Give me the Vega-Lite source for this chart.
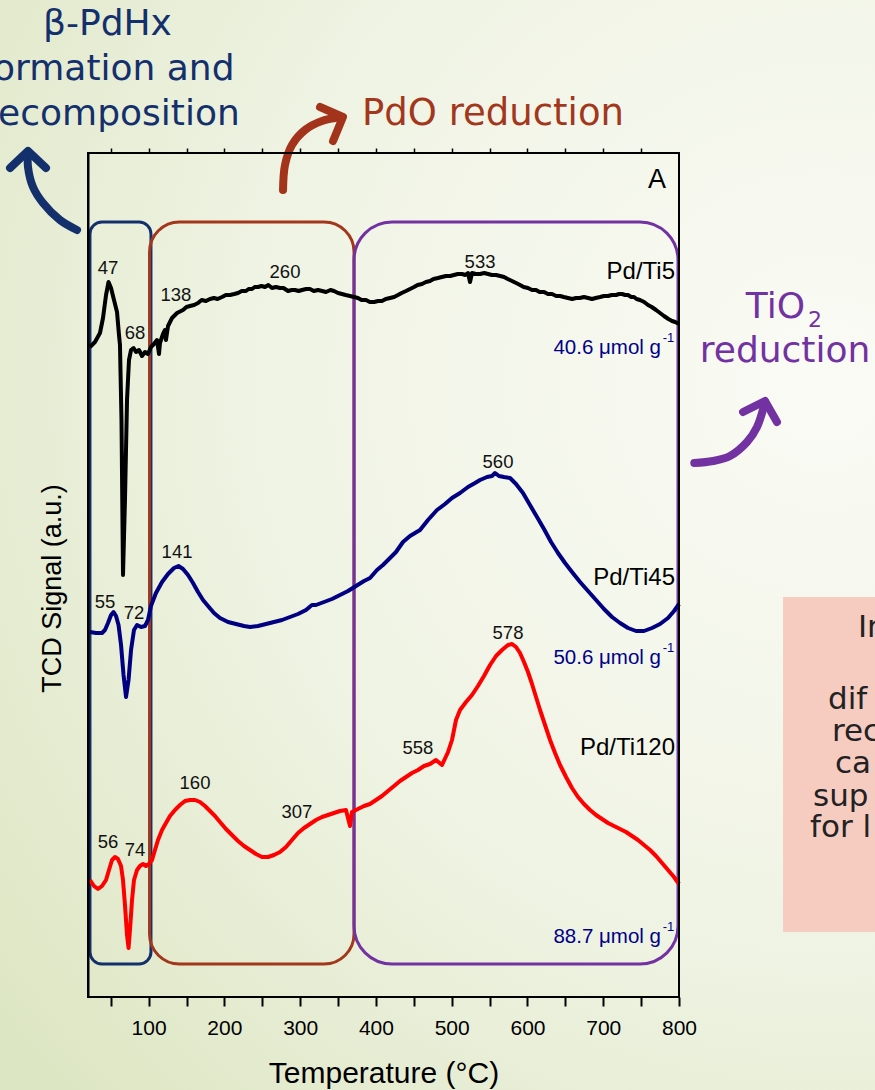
{
  "$schema": "https://vega.github.io/schema/vega-lite/v6.json",
  "width": 591,
  "height": 844,
  "autosize": {"type": "none"},
  "padding": {"left": 88, "top": 153, "right": 196, "bottom": 93},
  "background": "#eef2e2",
  "config": {"view": {"stroke": null}, "axis": {"zindex": 1}},
  "resolve": {"axis": {"x": "independent", "y": "independent"}, "scale": {"color": "independent"}},
  "datasets": {
    "curves": [
      {"sample":"Pd/Ti5","T":22.6,"s":650},{"sample":"Pd/Ti5","T":29.2,"s":655},{"sample":"Pd/Ti5","T":35.8,"s":664},{"sample":"Pd/Ti5","T":39.8,"s":679},{"sample":"Pd/Ti5","T":43.8,"s":702},{"sample":"Pd/Ti5","T":47.1,"s":715},{"sample":"Pd/Ti5","T":50.4,"s":709},{"sample":"Pd/Ti5","T":54.3,"s":697},{"sample":"Pd/Ti5","T":58.3,"s":685},{"sample":"Pd/Ti5","T":60.9,"s":662},{"sample":"Pd/Ti5","T":62.2,"s":652},{"sample":"Pd/Ti5","T":64.2,"s":577},{"sample":"Pd/Ti5","T":66.2,"s":422},{"sample":"Pd/Ti5","T":68.8,"s":497},{"sample":"Pd/Ti5","T":71.5,"s":597},{"sample":"Pd/Ti5","T":74.1,"s":637},{"sample":"Pd/Ti5","T":76.8,"s":647},{"sample":"Pd/Ti5","T":80.1,"s":649},{"sample":"Pd/Ti5","T":83.4,"s":645},{"sample":"Pd/Ti5","T":87.3,"s":647},{"sample":"Pd/Ti5","T":91.3,"s":641},{"sample":"Pd/Ti5","T":95.2,"s":645},{"sample":"Pd/Ti5","T":99.2,"s":643},{"sample":"Pd/Ti5","T":103.1,"s":650},{"sample":"Pd/Ti5","T":107.1,"s":653},{"sample":"Pd/Ti5","T":111.1,"s":657},{"sample":"Pd/Ti5","T":113.7,"s":643},{"sample":"Pd/Ti5","T":115.0,"s":654},{"sample":"Pd/Ti5","T":119.0,"s":663},{"sample":"Pd/Ti5","T":121.6,"s":667},{"sample":"Pd/Ti5","T":122.9,"s":657},{"sample":"Pd/Ti5","T":125.6,"s":671},{"sample":"Pd/Ti5","T":130.9,"s":679},{"sample":"Pd/Ti5","T":137.5,"s":684},{"sample":"Pd/Ti5","T":145.4,"s":687},{"sample":"Pd/Ti5","T":150,"s":690},{"sample":"Pd/Ti5","T":154.6,"s":691},{"sample":"Pd/Ti5","T":160,"s":692},{"sample":"Pd/Ti5","T":165.2,"s":694},{"sample":"Pd/Ti5","T":170,"s":697},{"sample":"Pd/Ti5","T":175.7,"s":696},{"sample":"Pd/Ti5","T":181,"s":698},{"sample":"Pd/Ti5","T":186.3,"s":699},{"sample":"Pd/Ti5","T":191,"s":698},{"sample":"Pd/Ti5","T":196.9,"s":700},{"sample":"Pd/Ti5","T":202,"s":702},{"sample":"Pd/Ti5","T":207.4,"s":702},{"sample":"Pd/Ti5","T":213,"s":703},{"sample":"Pd/Ti5","T":218,"s":704},{"sample":"Pd/Ti5","T":223,"s":706},{"sample":"Pd/Ti5","T":228.5,"s":706},{"sample":"Pd/Ti5","T":232,"s":708},{"sample":"Pd/Ti5","T":236.5,"s":708},{"sample":"Pd/Ti5","T":240,"s":710},{"sample":"Pd/Ti5","T":244.4,"s":710},{"sample":"Pd/Ti5","T":249,"s":711},{"sample":"Pd/Ti5","T":253.6,"s":710},{"sample":"Pd/Ti5","T":258,"s":712},{"sample":"Pd/Ti5","T":262.8,"s":709},{"sample":"Pd/Ti5","T":268,"s":710},{"sample":"Pd/Ti5","T":273.4,"s":709},{"sample":"Pd/Ti5","T":278,"s":709},{"sample":"Pd/Ti5","T":284,"s":706},{"sample":"Pd/Ti5","T":289,"s":707},{"sample":"Pd/Ti5","T":293.2,"s":707},{"sample":"Pd/Ti5","T":298,"s":706},{"sample":"Pd/Ti5","T":302.4,"s":707},{"sample":"Pd/Ti5","T":308,"s":708},{"sample":"Pd/Ti5","T":313,"s":708},{"sample":"Pd/Ti5","T":318,"s":706},{"sample":"Pd/Ti5","T":323.6,"s":707},{"sample":"Pd/Ti5","T":329,"s":706},{"sample":"Pd/Ti5","T":334.1,"s":705},{"sample":"Pd/Ti5","T":340,"s":707},{"sample":"Pd/Ti5","T":344.7,"s":706},{"sample":"Pd/Ti5","T":350,"s":704},{"sample":"Pd/Ti5","T":355.2,"s":703},{"sample":"Pd/Ti5","T":360,"s":702},{"sample":"Pd/Ti5","T":365.8,"s":701},{"sample":"Pd/Ti5","T":371,"s":700},{"sample":"Pd/Ti5","T":376.3,"s":699},{"sample":"Pd/Ti5","T":381,"s":697},{"sample":"Pd/Ti5","T":386.9,"s":697},{"sample":"Pd/Ti5","T":392,"s":695},{"sample":"Pd/Ti5","T":397.5,"s":695},{"sample":"Pd/Ti5","T":403,"s":696},{"sample":"Pd/Ti5","T":408,"s":696},{"sample":"Pd/Ti5","T":413,"s":698},{"sample":"Pd/Ti5","T":418.6,"s":699},{"sample":"Pd/Ti5","T":424,"s":700},{"sample":"Pd/Ti5","T":429.1,"s":702},{"sample":"Pd/Ti5","T":434,"s":704},{"sample":"Pd/Ti5","T":439.7,"s":706},{"sample":"Pd/Ti5","T":445,"s":708},{"sample":"Pd/Ti5","T":450.3,"s":710},{"sample":"Pd/Ti5","T":455,"s":712},{"sample":"Pd/Ti5","T":460.8,"s":713},{"sample":"Pd/Ti5","T":466,"s":715},{"sample":"Pd/Ti5","T":471.4,"s":716},{"sample":"Pd/Ti5","T":476,"s":718},{"sample":"Pd/Ti5","T":481.9,"s":719},{"sample":"Pd/Ti5","T":487,"s":720},{"sample":"Pd/Ti5","T":492.5,"s":721},{"sample":"Pd/Ti5","T":498,"s":721},{"sample":"Pd/Ti5","T":503,"s":722},{"sample":"Pd/Ti5","T":508,"s":723},{"sample":"Pd/Ti5","T":513.6,"s":723},{"sample":"Pd/Ti5","T":518,"s":722},{"sample":"Pd/Ti5","T":521.5,"s":724},{"sample":"Pd/Ti5","T":524.2,"s":715},{"sample":"Pd/Ti5","T":526.8,"s":724},{"sample":"Pd/Ti5","T":532,"s":723},{"sample":"Pd/Ti5","T":537.4,"s":723},{"sample":"Pd/Ti5","T":543,"s":724},{"sample":"Pd/Ti5","T":548,"s":723},{"sample":"Pd/Ti5","T":553,"s":722},{"sample":"Pd/Ti5","T":558.5,"s":722},{"sample":"Pd/Ti5","T":564,"s":721},{"sample":"Pd/Ti5","T":569.1,"s":720},{"sample":"Pd/Ti5","T":574,"s":718},{"sample":"Pd/Ti5","T":579.6,"s":716},{"sample":"Pd/Ti5","T":585,"s":714},{"sample":"Pd/Ti5","T":590.2,"s":712},{"sample":"Pd/Ti5","T":595,"s":710},{"sample":"Pd/Ti5","T":600.7,"s":709},{"sample":"Pd/Ti5","T":606,"s":707},{"sample":"Pd/Ti5","T":611.3,"s":707},{"sample":"Pd/Ti5","T":616,"s":705},{"sample":"Pd/Ti5","T":621.9,"s":705},{"sample":"Pd/Ti5","T":627,"s":703},{"sample":"Pd/Ti5","T":632.4,"s":703},{"sample":"Pd/Ti5","T":638,"s":701},{"sample":"Pd/Ti5","T":643,"s":701},{"sample":"Pd/Ti5","T":648,"s":700},{"sample":"Pd/Ti5","T":653.5,"s":699},{"sample":"Pd/Ti5","T":659,"s":698},{"sample":"Pd/Ti5","T":664.1,"s":699},{"sample":"Pd/Ti5","T":669,"s":699},{"sample":"Pd/Ti5","T":674.6,"s":700},{"sample":"Pd/Ti5","T":680,"s":699},{"sample":"Pd/Ti5","T":685.2,"s":698},{"sample":"Pd/Ti5","T":690,"s":699},{"sample":"Pd/Ti5","T":695.8,"s":700},{"sample":"Pd/Ti5","T":701,"s":701},{"sample":"Pd/Ti5","T":706.3,"s":701},{"sample":"Pd/Ti5","T":711,"s":702},{"sample":"Pd/Ti5","T":716.9,"s":702},{"sample":"Pd/Ti5","T":721,"s":703},{"sample":"Pd/Ti5","T":724.8,"s":703},{"sample":"Pd/Ti5","T":729,"s":702},{"sample":"Pd/Ti5","T":732.7,"s":702},{"sample":"Pd/Ti5","T":737,"s":700},{"sample":"Pd/Ti5","T":740.6,"s":700},{"sample":"Pd/Ti5","T":744,"s":698},{"sample":"Pd/Ti5","T":748.5,"s":697},{"sample":"Pd/Ti5","T":754,"s":695},{"sample":"Pd/Ti5","T":759.1,"s":692},{"sample":"Pd/Ti5","T":764,"s":690},{"sample":"Pd/Ti5","T":769.7,"s":687},{"sample":"Pd/Ti5","T":775,"s":684},{"sample":"Pd/Ti5","T":780.2,"s":681},{"sample":"Pd/Ti5","T":786,"s":678},{"sample":"Pd/Ti5","T":790.8,"s":676},{"sample":"Pd/Ti5","T":795,"s":675},{"sample":"Pd/Ti5","T":800,"s":673},
      {"sample":"Pd/Ti45","T":22.6,"s":365},{"sample":"Pd/Ti45","T":30.6,"s":364},{"sample":"Pd/Ti45","T":38.5,"s":364},{"sample":"Pd/Ti45","T":42.4,"s":367},{"sample":"Pd/Ti45","T":46.4,"s":374},{"sample":"Pd/Ti45","T":50.4,"s":382},{"sample":"Pd/Ti45","T":53.7,"s":385},{"sample":"Pd/Ti45","T":57.0,"s":381},{"sample":"Pd/Ti45","T":60.3,"s":372},{"sample":"Pd/Ti45","T":63.6,"s":352},{"sample":"Pd/Ti45","T":66.9,"s":322},{"sample":"Pd/Ti45","T":70.2,"s":300},{"sample":"Pd/Ti45","T":73.5,"s":317},{"sample":"Pd/Ti45","T":76.8,"s":347},{"sample":"Pd/Ti45","T":80.7,"s":367},{"sample":"Pd/Ti45","T":84.7,"s":372},{"sample":"Pd/Ti45","T":89.9,"s":370},{"sample":"Pd/Ti45","T":95.2,"s":371},{"sample":"Pd/Ti45","T":99.2,"s":377},{"sample":"Pd/Ti45","T":103.1,"s":391},{"sample":"Pd/Ti45","T":109.7,"s":404},{"sample":"Pd/Ti45","T":117.7,"s":415},{"sample":"Pd/Ti45","T":125.6,"s":423},{"sample":"Pd/Ti45","T":133.5,"s":429},{"sample":"Pd/Ti45","T":139.4,"s":431},{"sample":"Pd/Ti45","T":145.4,"s":428},{"sample":"Pd/Ti45","T":152.0,"s":422},{"sample":"Pd/Ti45","T":158.6,"s":414},{"sample":"Pd/Ti45","T":165.2,"s":405},{"sample":"Pd/Ti45","T":171.8,"s":397},{"sample":"Pd/Ti45","T":178.4,"s":391},{"sample":"Pd/Ti45","T":186.3,"s":384},{"sample":"Pd/Ti45","T":194.2,"s":379},{"sample":"Pd/Ti45","T":204.8,"s":375},{"sample":"Pd/Ti45","T":215.3,"s":373},{"sample":"Pd/Ti45","T":225.9,"s":371},{"sample":"Pd/Ti45","T":233.8,"s":370},{"sample":"Pd/Ti45","T":244.4,"s":371},{"sample":"Pd/Ti45","T":254.9,"s":373},{"sample":"Pd/Ti45","T":265.5,"s":375},{"sample":"Pd/Ti45","T":276.0,"s":377},{"sample":"Pd/Ti45","T":286.6,"s":380},{"sample":"Pd/Ti45","T":297.2,"s":383},{"sample":"Pd/Ti45","T":307.7,"s":387},{"sample":"Pd/Ti45","T":315.6,"s":392},{"sample":"Pd/Ti45","T":320.9,"s":392},{"sample":"Pd/Ti45","T":331.5,"s":395},{"sample":"Pd/Ti45","T":342.0,"s":398},{"sample":"Pd/Ti45","T":352.6,"s":402},{"sample":"Pd/Ti45","T":363.2,"s":406},{"sample":"Pd/Ti45","T":373.7,"s":411},{"sample":"Pd/Ti45","T":384.3,"s":416},{"sample":"Pd/Ti45","T":392.2,"s":419},{"sample":"Pd/Ti45","T":401.4,"s":427},{"sample":"Pd/Ti45","T":409.3,"s":432},{"sample":"Pd/Ti45","T":418.6,"s":439},{"sample":"Pd/Ti45","T":426.5,"s":445},{"sample":"Pd/Ti45","T":435.7,"s":455},{"sample":"Pd/Ti45","T":445.0,"s":461},{"sample":"Pd/Ti45","T":451.6,"s":464},{"sample":"Pd/Ti45","T":458.2,"s":467},{"sample":"Pd/Ti45","T":468.7,"s":477},{"sample":"Pd/Ti45","T":480.6,"s":487},{"sample":"Pd/Ti45","T":491.2,"s":493},{"sample":"Pd/Ti45","T":500.4,"s":499},{"sample":"Pd/Ti45","T":511.0,"s":504},{"sample":"Pd/Ti45","T":521.5,"s":510},{"sample":"Pd/Ti45","T":530.8,"s":514},{"sample":"Pd/Ti45","T":537.4,"s":517},{"sample":"Pd/Ti45","T":546.6,"s":520},{"sample":"Pd/Ti45","T":553.2,"s":521},{"sample":"Pd/Ti45","T":557.2,"s":524},{"sample":"Pd/Ti45","T":562.4,"s":521},{"sample":"Pd/Ti45","T":569.0,"s":520},{"sample":"Pd/Ti45","T":577.0,"s":519},{"sample":"Pd/Ti45","T":584.9,"s":513},{"sample":"Pd/Ti45","T":594.1,"s":504},{"sample":"Pd/Ti45","T":603.3,"s":492},{"sample":"Pd/Ti45","T":612.6,"s":480},{"sample":"Pd/Ti45","T":621.8,"s":468},{"sample":"Pd/Ti45","T":631.1,"s":455},{"sample":"Pd/Ti45","T":640.3,"s":444},{"sample":"Pd/Ti45","T":649.6,"s":434},{"sample":"Pd/Ti45","T":658.8,"s":425},{"sample":"Pd/Ti45","T":669.4,"s":415},{"sample":"Pd/Ti45","T":679.9,"s":406},{"sample":"Pd/Ti45","T":690.5,"s":397},{"sample":"Pd/Ti45","T":701.0,"s":388},{"sample":"Pd/Ti45","T":711.6,"s":380},{"sample":"Pd/Ti45","T":722.2,"s":374},{"sample":"Pd/Ti45","T":732.7,"s":369},{"sample":"Pd/Ti45","T":743.3,"s":366},{"sample":"Pd/Ti45","T":753.8,"s":366},{"sample":"Pd/Ti45","T":764.4,"s":369},{"sample":"Pd/Ti45","T":775.0,"s":373},{"sample":"Pd/Ti45","T":785.5,"s":379},{"sample":"Pd/Ti45","T":793.5,"s":386},{"sample":"Pd/Ti45","T":800,"s":393},
      {"sample":"Pd/Ti120","T":22.6,"s":117},{"sample":"Pd/Ti120","T":27.9,"s":111},{"sample":"Pd/Ti120","T":33.2,"s":108},{"sample":"Pd/Ti120","T":38.5,"s":111},{"sample":"Pd/Ti120","T":43.8,"s":117},{"sample":"Pd/Ti120","T":47.7,"s":127},{"sample":"Pd/Ti120","T":51.7,"s":137},{"sample":"Pd/Ti120","T":55.6,"s":140},{"sample":"Pd/Ti120","T":59.6,"s":138},{"sample":"Pd/Ti120","T":63.6,"s":131},{"sample":"Pd/Ti120","T":66.2,"s":117},{"sample":"Pd/Ti120","T":68.8,"s":92},{"sample":"Pd/Ti120","T":71.5,"s":62},{"sample":"Pd/Ti120","T":73.5,"s":49},{"sample":"Pd/Ti120","T":75.4,"s":67},{"sample":"Pd/Ti120","T":78.1,"s":97},{"sample":"Pd/Ti120","T":80.7,"s":117},{"sample":"Pd/Ti120","T":84.7,"s":127},{"sample":"Pd/Ti120","T":88.6,"s":131},{"sample":"Pd/Ti120","T":92.6,"s":133},{"sample":"Pd/Ti120","T":96.5,"s":131},{"sample":"Pd/Ti120","T":100.5,"s":133},{"sample":"Pd/Ti120","T":104.5,"s":137},{"sample":"Pd/Ti120","T":108.4,"s":147},{"sample":"Pd/Ti120","T":112.4,"s":157},{"sample":"Pd/Ti120","T":117.7,"s":167},{"sample":"Pd/Ti120","T":122.9,"s":174},{"sample":"Pd/Ti120","T":128.2,"s":181},{"sample":"Pd/Ti120","T":134.8,"s":187},{"sample":"Pd/Ti120","T":141.4,"s":192},{"sample":"Pd/Ti120","T":148.0,"s":196},{"sample":"Pd/Ti120","T":154.6,"s":197},{"sample":"Pd/Ti120","T":161.2,"s":197},{"sample":"Pd/Ti120","T":167.8,"s":195},{"sample":"Pd/Ti120","T":174.4,"s":191},{"sample":"Pd/Ti120","T":181.0,"s":186},{"sample":"Pd/Ti120","T":187.6,"s":181},{"sample":"Pd/Ti120","T":194.2,"s":175},{"sample":"Pd/Ti120","T":202.1,"s":168},{"sample":"Pd/Ti120","T":210.0,"s":162},{"sample":"Pd/Ti120","T":218.0,"s":156},{"sample":"Pd/Ti120","T":225.9,"s":151},{"sample":"Pd/Ti120","T":233.8,"s":147},{"sample":"Pd/Ti120","T":241.7,"s":143},{"sample":"Pd/Ti120","T":249.6,"s":140},{"sample":"Pd/Ti120","T":257.6,"s":140},{"sample":"Pd/Ti120","T":265.5,"s":142},{"sample":"Pd/Ti120","T":273.4,"s":145},{"sample":"Pd/Ti120","T":281.3,"s":150},{"sample":"Pd/Ti120","T":289.2,"s":157},{"sample":"Pd/Ti120","T":297.2,"s":164},{"sample":"Pd/Ti120","T":305.1,"s":169},{"sample":"Pd/Ti120","T":313.0,"s":173},{"sample":"Pd/Ti120","T":320.9,"s":177},{"sample":"Pd/Ti120","T":328.8,"s":180},{"sample":"Pd/Ti120","T":336.8,"s":182},{"sample":"Pd/Ti120","T":344.7,"s":184},{"sample":"Pd/Ti120","T":352.6,"s":186},{"sample":"Pd/Ti120","T":360.5,"s":187},{"sample":"Pd/Ti120","T":365.8,"s":171},{"sample":"Pd/Ti120","T":368.4,"s":185},{"sample":"Pd/Ti120","T":376.3,"s":188},{"sample":"Pd/Ti120","T":384.3,"s":191},{"sample":"Pd/Ti120","T":392.2,"s":193},{"sample":"Pd/Ti120","T":400.1,"s":197},{"sample":"Pd/Ti120","T":408.0,"s":201},{"sample":"Pd/Ti120","T":415.9,"s":206},{"sample":"Pd/Ti120","T":423.9,"s":211},{"sample":"Pd/Ti120","T":431.8,"s":216},{"sample":"Pd/Ti120","T":439.7,"s":220},{"sample":"Pd/Ti120","T":447.6,"s":224},{"sample":"Pd/Ti120","T":455.6,"s":227},{"sample":"Pd/Ti120","T":463.5,"s":231},{"sample":"Pd/Ti120","T":471.4,"s":233},{"sample":"Pd/Ti120","T":479.3,"s":237},{"sample":"Pd/Ti120","T":487.2,"s":232},{"sample":"Pd/Ti120","T":495.2,"s":245},{"sample":"Pd/Ti120","T":500.4,"s":257},{"sample":"Pd/Ti120","T":505.7,"s":277},{"sample":"Pd/Ti120","T":511.0,"s":287},{"sample":"Pd/Ti120","T":518.9,"s":295},{"sample":"Pd/Ti120","T":526.8,"s":302},{"sample":"Pd/Ti120","T":534.7,"s":311},{"sample":"Pd/Ti120","T":542.6,"s":321},{"sample":"Pd/Ti120","T":550.6,"s":332},{"sample":"Pd/Ti120","T":558.5,"s":341},{"sample":"Pd/Ti120","T":566.4,"s":347},{"sample":"Pd/Ti120","T":574.3,"s":352},{"sample":"Pd/Ti120","T":579.6,"s":353},{"sample":"Pd/Ti120","T":584.9,"s":350},{"sample":"Pd/Ti120","T":590.2,"s":344},{"sample":"Pd/Ti120","T":595.4,"s":335},{"sample":"Pd/Ti120","T":600.7,"s":325},{"sample":"Pd/Ti120","T":606.0,"s":313},{"sample":"Pd/Ti120","T":611.3,"s":300},{"sample":"Pd/Ti120","T":616.6,"s":287},{"sample":"Pd/Ti120","T":623.2,"s":272},{"sample":"Pd/Ti120","T":629.8,"s":257},{"sample":"Pd/Ti120","T":636.4,"s":244},{"sample":"Pd/Ti120","T":643.0,"s":232},{"sample":"Pd/Ti120","T":650.9,"s":220},{"sample":"Pd/Ti120","T":658.8,"s":209},{"sample":"Pd/Ti120","T":666.7,"s":200},{"sample":"Pd/Ti120","T":674.6,"s":193},{"sample":"Pd/Ti120","T":682.6,"s":187},{"sample":"Pd/Ti120","T":690.5,"s":182},{"sample":"Pd/Ti120","T":698.4,"s":178},{"sample":"Pd/Ti120","T":706.3,"s":174},{"sample":"Pd/Ti120","T":714.2,"s":171},{"sample":"Pd/Ti120","T":722.2,"s":168},{"sample":"Pd/Ti120","T":730.1,"s":165},{"sample":"Pd/Ti120","T":738.0,"s":161},{"sample":"Pd/Ti120","T":745.9,"s":157},{"sample":"Pd/Ti120","T":753.8,"s":152},{"sample":"Pd/Ti120","T":761.8,"s":147},{"sample":"Pd/Ti120","T":769.7,"s":141},{"sample":"Pd/Ti120","T":777.6,"s":134},{"sample":"Pd/Ti120","T":785.5,"s":127},{"sample":"Pd/Ti120","T":793.4,"s":120},{"sample":"Pd/Ti120","T":800,"s":113}
    ],
    "regions": [
      {"region":"beta","t0":22.6,"t1":103.1,"s0":33,"s1":775},
      {"region":"pdo","t0":101.2,"t1":371.1,"s0":33,"s1":775},
      {"region":"tio","t0":371.1,"t1":798.7,"s0":33,"s1":775}
    ],
    "shafts": [
      {"group":"beta","i":1,"T":5.5,"s":767},{"group":"beta","i":2,"T":-17.0,"s":777},{"group":"beta","i":3,"T":-39.4,"s":794},{"group":"beta","i":4,"T":-52.6,"s":810},{"group":"beta","i":5,"T":-59.2,"s":830},{"group":"beta","i":6,"T":-59.2,"s":845},
      {"group":"pdo","i":1,"T":277.4,"s":807},{"group":"pdo","i":2,"T":280.0,"s":832},{"group":"pdo","i":3,"T":289.2,"s":852},{"group":"pdo","i":4,"T":306.4,"s":867},{"group":"pdo","i":5,"T":328.8,"s":876},{"group":"pdo","i":6,"T":353.9,"s":880},
      {"group":"tio","i":1,"T":820.2,"s":534},{"group":"tio","i":2,"T":844.9,"s":536},{"group":"tio","i":3,"T":867.3,"s":541},{"group":"tio","i":4,"T":889.8,"s":555},{"group":"tio","i":5,"T":903.0,"s":570},{"group":"tio","i":6,"T":913.5,"s":595}
    ],
    "heads": [
      {"group":"beta","i":1,"T":-82.9,"s":829},{"group":"beta","i":2,"T":-59.2,"s":846},{"group":"beta","i":3,"T":-35.4,"s":829},
      {"group":"pdo","i":1,"T":326.2,"s":890},{"group":"pdo","i":2,"T":356.5,"s":880},{"group":"pdo","i":3,"T":343.4,"s":856},
      {"group":"tio","i":1,"T":884.5,"s":585},{"group":"tio","i":2,"T":913.5,"s":596},{"group":"tio","i":3,"T":929.3,"s":575}
    ],
    "peaks": [
      {"peak":"47","T":46.4,"s":729},{"peak":"68","T":82.0,"s":664},{"peak":"138","T":136.1,"s":702},{"peak":"260","T":280.0,"s":725},{"peak":"533","T":537.4,"s":735},
      {"peak":"55","T":42.4,"s":395},{"peak":"72","T":80.7,"s":384},{"peak":"141","T":137.5,"s":445},{"peak":"560","T":561.1,"s":535},
      {"peak":"56","T":46.4,"s":155},{"peak":"74","T":82.0,"s":147},{"peak":"160","T":161.2,"s":214},{"peak":"307","T":295.8,"s":185},{"peak":"558","T":455.5,"s":249},{"peak":"578","T":574.3,"s":364}
    ],
    "tags": [
      {"tag":"Pd/Ti5","T":794.8,"s":725},{"tag":"Pd/Ti45","T":794.8,"s":419},{"tag":"Pd/Ti120","T":794.8,"s":249}
    ],
    "uptake": [
      {"amount":"40.6 μmol g","sup":"-1","T":776.2,"s":649,"Ts":778.4,"ss":659},
      {"amount":"50.6 μmol g","sup":"-1","T":776.2,"s":339,"Ts":778.4,"ss":349},
      {"amount":"88.7 μmol g","sup":"-1","T":776.2,"s":60,"Ts":778.4,"ss":70}
    ],
    "notes": [
      {"note":"β-PdHx","group":"beta","T":45.7,"s":962},
      {"note":"formation and","group":"beta","T":45.7,"s":917},
      {"note":"decomposition","group":"beta","T":45.7,"s":872},
      {"note":"PdO reduction","group":"pdo","T":381.6,"s":872},
      {"note":"TiO","group":"tio","T":966.3,"s":679},
      {"note":"2","group":"tiosub","T":970.3,"s":670},
      {"note":"reduction","group":"tio2","T":939.9,"s":635}
    ],
    "pink": [
      {"line":"In","T":1036.2,"s":369},
      {"line":"dif","T":996.7,"s":297},
      {"line":"rec","T":1001.9,"s":265},
      {"line":"ca","T":1005.9,"s":233},
      {"line":"sup","T":976.9,"s":200},
      {"line":"for l","T":972.9,"s":169}
    ]
  },
  "layer": [
    {
      "data": {"values": [{}]},
      "mark": {"type": "rect", "clip": false, "fill": {"gradient": "radial", "x1": 0.85, "y1": 0.35, "r1": 0, "x2": 0.85, "y2": 0.35, "r2": 0.95, "stops": [{"offset": 0, "color": "#fafbf5"}, {"offset": 0.55, "color": "#eff3e3"}, {"offset": 1, "color": "#dde6c3"}]}},
      "encoding": {
        "x": {"datum": -100, "type": "quantitative", "scale": {"domain": [20, 800], "nice": false, "zero": false}, "axis": null},
        "x2": {"datum": 1065},
        "y": {"datum": -100, "type": "quantitative", "scale": {"domain": [0, 844], "nice": false, "zero": false}, "axis": null},
        "y2": {"datum": 1000}
      }
    },
    {
      "data": {"values": [{"box": "pink"}]},
      "mark": {"type": "rect", "clip": false, "fill": "#f6ccc1"},
      "encoding": {
        "x": {"datum": 937.3, "type": "quantitative", "axis": null},
        "x2": {"datum": 1070},
        "y": {"datum": 65, "type": "quantitative", "axis": null},
        "y2": {"datum": 400}
      }
    },
    {
      "data": {"name": "pink"},
      "mark": {"type": "text", "clip": false, "font": "DejaVu Sans", "fontSize": 31, "color": "#222222", "align": "left", "baseline": "middle"},
      "encoding": {
        "x": {"field": "T", "type": "quantitative", "axis": null},
        "y": {"field": "s", "type": "quantitative", "axis": null},
        "text": {"field": "line"}
      }
    },
    {
      "data": {"name": "regions"},
      "transform": [{"filter": "datum.region === 'beta'"}],
      "mark": {"type": "rect", "clip": false, "fill": null, "fillOpacity": 0, "stroke": "#14306c", "strokeWidth": 3, "cornerRadius": 12},
      "encoding": {
        "x": {"field": "t0", "type": "quantitative", "axis": null},
        "x2": {"field": "t1"},
        "y": {"field": "s0", "type": "quantitative", "axis": null},
        "y2": {"field": "s1"}
      }
    },
    {
      "data": {"name": "regions"},
      "transform": [{"filter": "datum.region === 'pdo'"}],
      "mark": {"type": "rect", "clip": false, "fill": null, "fillOpacity": 0, "stroke": "#a3371c", "strokeWidth": 3, "cornerRadius": 30},
      "encoding": {
        "x": {"field": "t0", "type": "quantitative", "axis": null},
        "x2": {"field": "t1"},
        "y": {"field": "s0", "type": "quantitative", "axis": null},
        "y2": {"field": "s1"}
      }
    },
    {
      "data": {"name": "regions"},
      "transform": [{"filter": "datum.region === 'tio'"}],
      "mark": {"type": "rect", "clip": false, "fill": null, "fillOpacity": 0, "stroke": "#7232a2", "strokeWidth": 3, "cornerRadius": 38},
      "encoding": {
        "x": {"field": "t0", "type": "quantitative", "axis": null},
        "x2": {"field": "t1"},
        "y": {"field": "s0", "type": "quantitative", "axis": null},
        "y2": {"field": "s1"}
      }
    },
    {
      "data": {"name": "shafts"},
      "mark": {"type": "line", "clip": false, "strokeWidth": 8, "strokeCap": "round", "strokeJoin": "round", "interpolate": "catmull-rom"},
      "encoding": {
        "x": {"field": "T", "type": "quantitative", "axis": null},
        "y": {"field": "s", "type": "quantitative", "axis": null},
        "order": {"field": "i"},
        "detail": {"field": "group"},
        "color": {"field": "group", "type": "nominal", "scale": {"domain": ["beta", "pdo", "tio"], "range": ["#14306c", "#a3331a", "#7232a2"]}, "legend": null}
      }
    },
    {
      "data": {"name": "heads"},
      "mark": {"type": "line", "clip": false, "strokeWidth": 8, "strokeCap": "round", "strokeJoin": "round"},
      "encoding": {
        "x": {"field": "T", "type": "quantitative", "axis": null},
        "y": {"field": "s", "type": "quantitative", "axis": null},
        "order": {"field": "i"},
        "detail": {"field": "group"},
        "color": {"field": "group", "type": "nominal", "scale": {"domain": ["beta", "pdo", "tio"], "range": ["#14306c", "#a3331a", "#7232a2"]}, "legend": null}
      }
    },
    {
      "data": {"name": "curves"},
      "mark": {"type": "line", "clip": false, "strokeWidth": 4, "strokeJoin": "round"},
      "encoding": {
        "x": {"field": "T", "type": "quantitative", "scale": {"domain": [20, 800], "nice": false, "zero": false},
          "axis": {"zindex": 2, "orient": "bottom", "values": [50,100,150,200,250,300,350,400,450,500,550,600,650,700,750,800], "labelExpr": "datum.value % 100 === 0 ? datum.label : ''", "labelFlush": false, "labelOverlap": false, "domain": false, "grid": false, "tickColor": "black", "tickWidth": 2, "tickSize": 9, "encode": {"ticks": {"update": {"y2": {"signal": "datum.value % 100 === 0 ? 9 : 5"}}}}, "labelFont": "Liberation Sans", "labelFontSize": 21, "labelColor": "black", "labelPadding": 11, "title": "Temperature (°C)", "titleFont": "Liberation Sans", "titleFontSize": 30, "titleFontWeight": "normal", "titleColor": "black", "titlePadding": 20}},
        "y": {"field": "s", "type": "quantitative", "scale": {"domain": [0, 844], "nice": false, "zero": false},
          "axis": {"zindex": 2, "orient": "left", "title": "TCD Signal (a.u.)", "labels": false, "ticks": false, "domain": true, "domainColor": "black", "domainWidth": 2, "grid": false, "titleFont": "Liberation Sans", "titleFontSize": 27, "titleFontWeight": "normal", "titleColor": "black", "titlePadding": 22, "titleY": 435}},
        "color": {"field": "sample", "type": "nominal", "scale": {"domain": ["Pd/Ti5", "Pd/Ti45", "Pd/Ti120"], "range": ["#000000", "#000080", "#ff0000"]}, "legend": null}
      }
    },
    {
      "data": {"values": [{"frame": 1}]},
      "mark": {"type": "rect", "clip": false, "fill": null, "fillOpacity": 0, "stroke": "#000000", "strokeWidth": 2},
      "encoding": {
        "x": {"datum": 20, "type": "quantitative", "axis": null},
        "x2": {"datum": 800},
        "y": {"datum": 0, "type": "quantitative", "axis": null},
        "y2": {"datum": 844}
      }
    },
    {
      "data": {"name": "peaks"},
      "mark": {"type": "text", "clip": false, "font": "Liberation Sans", "fontSize": 18.5, "color": "#111111", "align": "center", "baseline": "middle"},
      "encoding": {
        "x": {"field": "T", "type": "quantitative",
          "axis": {"zindex": 2, "orient": "top", "values": [50,100,150,200,250,300,350,400,450,500,550,600,650,700,750], "labels": false, "domain": false, "grid": false, "title": null, "tickColor": "black", "tickWidth": 1.5, "tickSize": 5, "encode": {"ticks": {"update": {"y2": {"value": 5}}}}}},
        "y": {"field": "s", "type": "quantitative", "axis": null},
        "text": {"field": "peak"}
      }
    },
    {
      "data": {"name": "tags"},
      "mark": {"type": "text", "clip": false, "font": "Liberation Sans", "fontSize": 24, "color": "#000000", "align": "right", "baseline": "middle"},
      "encoding": {
        "x": {"field": "T", "type": "quantitative", "axis": null},
        "y": {"field": "s", "type": "quantitative", "axis": null},
        "text": {"field": "tag"}
      }
    },
    {
      "data": {"values": [{"panel": "A"}]},
      "mark": {"type": "text", "clip": false, "font": "Liberation Sans", "fontSize": 27, "color": "#000000", "align": "center", "baseline": "middle"},
      "encoding": {
        "x": {"datum": 771, "type": "quantitative", "axis": null},
        "y": {"datum": 817, "type": "quantitative", "axis": null},
        "text": {"field": "panel"}
      }
    },
    {
      "data": {"name": "uptake"},
      "mark": {"type": "text", "clip": false, "font": "Liberation Sans", "fontSize": 20.5, "color": "#00008b", "align": "right", "baseline": "middle"},
      "encoding": {
        "x": {"field": "T", "type": "quantitative", "axis": null},
        "y": {"field": "s", "type": "quantitative", "axis": null},
        "text": {"field": "amount"}
      }
    },
    {
      "data": {"name": "uptake"},
      "mark": {"type": "text", "clip": false, "font": "Liberation Sans", "fontSize": 13, "color": "#00008b", "align": "left", "baseline": "middle"},
      "encoding": {
        "x": {"field": "Ts", "type": "quantitative", "axis": null},
        "y": {"field": "ss", "type": "quantitative", "axis": null},
        "text": {"field": "sup"}
      }
    },
    {
      "data": {"name": "notes"},
      "transform": [{"filter": "datum.group === 'beta'"}],
      "mark": {"type": "text", "clip": false, "font": "DejaVu Sans", "fontSize": 36, "color": "#14306c", "align": "center", "baseline": "alphabetic"},
      "encoding": {
        "x": {"field": "T", "type": "quantitative", "axis": null},
        "y": {"field": "s", "type": "quantitative", "axis": null},
        "text": {"field": "note"}
      }
    },
    {
      "data": {"name": "notes"},
      "transform": [{"filter": "datum.group === 'pdo'"}],
      "mark": {"type": "text", "clip": false, "font": "DejaVu Sans", "fontSize": 37, "color": "#a3371c", "align": "left", "baseline": "alphabetic"},
      "encoding": {
        "x": {"field": "T", "type": "quantitative", "axis": null},
        "y": {"field": "s", "type": "quantitative", "axis": null},
        "text": {"field": "note"}
      }
    },
    {
      "data": {"name": "notes"},
      "transform": [{"filter": "datum.group === 'tio'"}],
      "mark": {"type": "text", "clip": false, "font": "DejaVu Sans", "fontSize": 36, "color": "#7232a2", "align": "right", "baseline": "alphabetic"},
      "encoding": {
        "x": {"field": "T", "type": "quantitative", "axis": null},
        "y": {"field": "s", "type": "quantitative", "axis": null},
        "text": {"field": "note"}
      }
    },
    {
      "data": {"name": "notes"},
      "transform": [{"filter": "datum.group === 'tiosub'"}],
      "mark": {"type": "text", "clip": false, "font": "DejaVu Sans", "fontSize": 22, "color": "#7232a2", "align": "left", "baseline": "alphabetic"},
      "encoding": {
        "x": {"field": "T", "type": "quantitative", "axis": null},
        "y": {"field": "s", "type": "quantitative", "axis": null},
        "text": {"field": "note"}
      }
    },
    {
      "data": {"name": "notes"},
      "transform": [{"filter": "datum.group === 'tio2'"}],
      "mark": {"type": "text", "clip": false, "font": "DejaVu Sans", "fontSize": 36, "color": "#7232a2", "align": "center", "baseline": "alphabetic"},
      "encoding": {
        "x": {"field": "T", "type": "quantitative", "axis": null},
        "y": {"field": "s", "type": "quantitative", "axis": null},
        "text": {"field": "note"}
      }
    }
  ]
}
